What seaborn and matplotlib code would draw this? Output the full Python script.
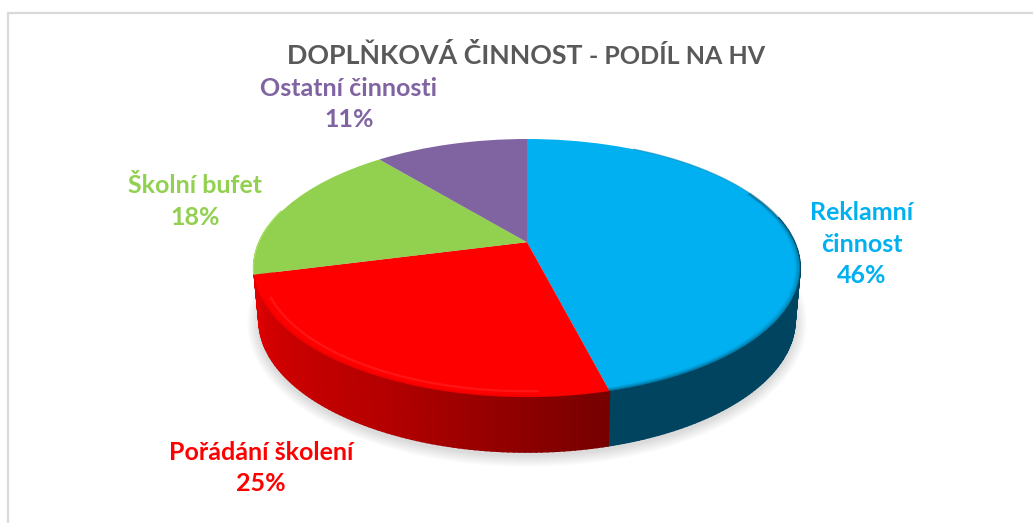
import numpy as np
import matplotlib
matplotlib.use('Agg')
import matplotlib.pyplot as plt
import seaborn as sns
from matplotlib.patches import Polygon
from matplotlib.transforms import Transform

# data
categories = ['Reklamní\nčinnost', 'Pořádání školení', 'Školní bufet', 'Ostatní činnosti']
shares = [46, 25, 18, 11]
colors = ['#00B0F0', '#FF0000', '#92D050', '#8064A2']

sns.set_theme(style='white')
plt.rcParams['font.family'] = ['Lato', 'Open Sans', 'DejaVu Sans']

# geometry of the tilted disc, in pixels of the picture
cx, top_cy, top_rx, top_ry = 527, 268, 273, 129
bot_cy, bot_rx, bot_ry = 320, 268, 132
persp = 0.2  # the pie centre appears above the ellipse centre


def project(u, v):
    # circle -> circle homography, keeps the rim an ellipse but moves the centre
    w = 1 + persp * v
    return u * np.sqrt(1 - persp ** 2) / w, (v + persp) / w


class DiscTransform(Transform):
    input_dims = 2
    output_dims = 2
    has_inverse = False

    def transform_non_affine(self, values):
        values = np.asarray(values)
        x, y = project(values[:, 0], values[:, 1])
        return np.column_stack([cx + top_rx * x, top_cy - top_ry * y])


def rim(theta, rx, cy, ry, r=1.0):
    x, y = project(r * np.cos(np.radians(theta)), r * np.sin(np.radians(theta)))
    return cx + rx * x, cy - ry * y


def wall(a, b, color):
    # one thin strip of the side wall; the edge closes the gaps between strips
    xa, ya = rim(np.array([a, b]), top_rx, top_cy, top_ry)
    xb, yb = rim(np.array([b, a]), bot_rx, bot_cy, bot_ry)
    ax.fill(np.r_[xa, xb], np.r_[ya, yb], fc=color, ec=color, lw=1.2, zorder=2)


fig, ax = plt.subplots(figsize=(10.33, 5.23), dpi=100)
fig.subplots_adjust(0, 0, 1, 1)

wedges, _ = ax.pie(shares, colors=colors, startangle=90, counterclock=False, radius=1)
ax.set_aspect('auto')
ax.set_xlim(0, 1033)
ax.set_ylim(523, 0)
ax.set_frame_on(False)

disc = DiscTransform()
for w in wedges:
    w.set_transform(disc + ax.transData)
    w.set_edgecolor('none')
    w.set_zorder(5)

# soft shadow under the disc
tt = np.linspace(0, 360, 241)
for grow in np.arange(1, 13):
    sx, sy = rim(tt, bot_rx + grow, bot_cy + 3, bot_ry + grow)
    ax.add_patch(Polygon(np.column_stack([sx, sy]), fc='black', ec='none', alpha=0.012, zorder=1))

blue, red, green, purple = wedges
red_dark = np.array(matplotlib.colors.to_rgb('#E00000'))

# blue wall first, it runs up to the right end of the disc
edges = np.linspace(blue.theta1, 12, 90)
for a, b in zip(edges[:-1], edges[1:]):
    wall(a, b, '#00445F')

# red wall goes a bit past its slice on the left, darkens to the right
edges = np.linspace(red.theta2, red.theta1 - 22, 115)
for a, b in zip(edges[:-1], edges[1:]):
    ang = ((a + b) / 2) % 360
    wall(a, b, red_dark * np.interp(ang, [194, 245, 285], [1.0, 0.8, 0.52]))

# bevel at the front rim of the top face, fading out towards the back
t_blue = np.linspace(blue.theta1, 25, 120)
for r, alpha in zip([1.0, 0.995, 0.99, 0.985], [0.4, 0.25, 0.15, 0.07]):
    ax.plot(*rim(t_blue, top_rx, top_cy, top_ry, r), color='#00445F', lw=1.4, alpha=alpha, zorder=6)
t_back = np.linspace(25, 62, 60)
ax.plot(*rim(t_back, top_rx, top_cy, top_ry, 1.0), color='#0088BC', lw=1.0, alpha=0.6, zorder=6)
t_red = np.linspace(205, 272, 90)
ax.plot(*rim(t_red, top_rx, top_cy, top_ry, 0.97), color='#FF3030', lw=1.6, alpha=0.45, zorder=6)
ax.plot(*rim(t_red, top_rx, top_cy, top_ry, 0.995), color='#D80000', lw=1.6, alpha=0.3, zorder=6)
t_green = np.linspace(165, 194, 30)
ax.plot(*rim(t_green, top_rx, top_cy, top_ry, 1.0), color='#A5E562', lw=1.8, zorder=4)

# frame of the chart, cut by the picture edge
ax.plot([8, 8, 1033], [523, 13, 13], color='#D9D9D9', lw=1.6, solid_joinstyle='miter', zorder=0)

# title in two sizes
ax.text(287, 55, 'DOPLŇKOVÁ ČINNOST', fontsize=19.3, fontweight='bold', color='#595959',
        ha='left', va='center', zorder=7)
ax.text(765, 56, '- PODÍL NA HV', fontsize=18, fontweight='bold', color='#595959',
        ha='right', va='center', zorder=7)

# data labels
label_pos = [(862, 244), (261, 468), (195, 201.5), (349, 104)]
for cat, val, col, (lx, ly) in zip(categories, shares, colors, label_pos):
    ax.text(lx, ly, f'{cat}\n{val}%', color=col, fontsize=18, fontweight='bold',
            ha='center', va='center', linespacing=1.45, zorder=7)

fig.savefig('out.png', dpi=100)
